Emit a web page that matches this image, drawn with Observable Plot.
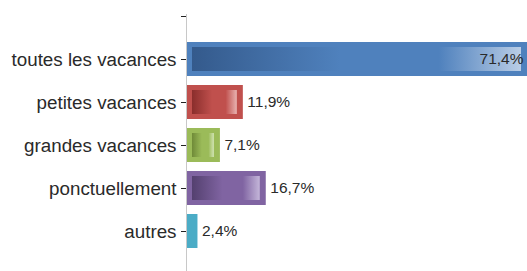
<!DOCTYPE html>
<html>
<head>
<meta charset="utf-8">
<script src="https://cdn.jsdelivr.net/npm/d3@7"></script>
<script src="https://cdn.jsdelivr.net/npm/@observablehq/plot@0.6"></script>
<style>
  html, body { margin: 0; padding: 0; background: #fff; }
</style>
</head>
<body>
<div id="chart"></div>
<script>
const categories = ["toutes les vacances", "petites vacances", "grandes vacances", "ponctuellement", "autres"];
const values = [71.4, 11.9, 7.1, 16.7, 2.4];
const labels = ["71,4%", "11,9%", "7,1%", "16,7%", "2,4%"];
const baseColors = ["#4f81bd", "#c0504d", "#9bbb59", "#8064a2", "#4bacc6"];
const darkColors = ["#345a8c", "#8a2e2c", "#6f8a38", "#54406f", "#2f8aa3"];
const lightColors = ["#b9cde6", "#e8b3b1", "#d2e4b4", "#c4b6d9", "#a9dbe8"];

const data = categories.map((c, i) => ({cat: c, value: values[i], label: labels[i], idx: i}));

const plot = Plot.plot({
  width: 527,
  height: 271,
  marginLeft: 186,
  marginRight: 0,
  marginTop: 14,
  marginBottom: 0,
  style: {fontFamily: "Liberation Sans, Arial, sans-serif", fontSize: "18px", color: "#333"},
  x: {domain: [0, 71.4], axis: null},
  y: {domain: ["", ...categories, " "], range: [-7.75, 297.25], paddingInner: 0.2, paddingOuter: 0.1, label: null},
  color: {type: "identity"},
  marks: [
    Plot.barX(data, {y: "cat", x: "value", fill: d => baseColors[d.idx]}),
    Plot.barX(data.filter(d => d.value > 5), {y: "cat", x: "value", fill: d => `url(#grad${d.idx})`, insetLeft: 6, insetRight: 6, insetTop: 5, insetBottom: 5}),
    Plot.ruleX([0], {stroke: "#c8c8c8"}),
    Plot.axisY({tickSize: 5, tickPadding: 5, stroke: "#222", fill: "#2a2a2a", fontSize: 18.8, tickFormat: d => d.trim()}),
    Plot.text(data.filter(d => d.idx === 0), {y: "cat", x: "value", text: "label", dx: -4, textAnchor: "end", fill: "#2a2a2a", fontSize: 15.5}),
    Plot.text(data.filter(d => d.idx !== 0), {y: "cat", x: "value", text: "label", dx: 4, textAnchor: "start", fill: "#2a2a2a", fontSize: 15.5})
  ]
});

const svgNS = "http://www.w3.org/2000/svg";
const defs = document.createElementNS(svgNS, "defs");
baseColors.forEach((c, i) => {
  const g = document.createElementNS(svgNS, "linearGradient");
  g.setAttribute("id", `grad${i}`);
  g.setAttribute("x1", "0"); g.setAttribute("x2", "1");
  g.setAttribute("y1", "0"); g.setAttribute("y2", "0");
  [[0, darkColors[i]], [0.45, c], [0.75, c], [1, lightColors[i]]].forEach(([o, col]) => {
    const s = document.createElementNS(svgNS, "stop");
    s.setAttribute("offset", o);
    s.setAttribute("stop-color", col);
    g.appendChild(s);
  });
  defs.appendChild(g);
});
plot.insertBefore(defs, plot.firstChild);
document.getElementById("chart").appendChild(plot);
</script>
</body>
</html>
